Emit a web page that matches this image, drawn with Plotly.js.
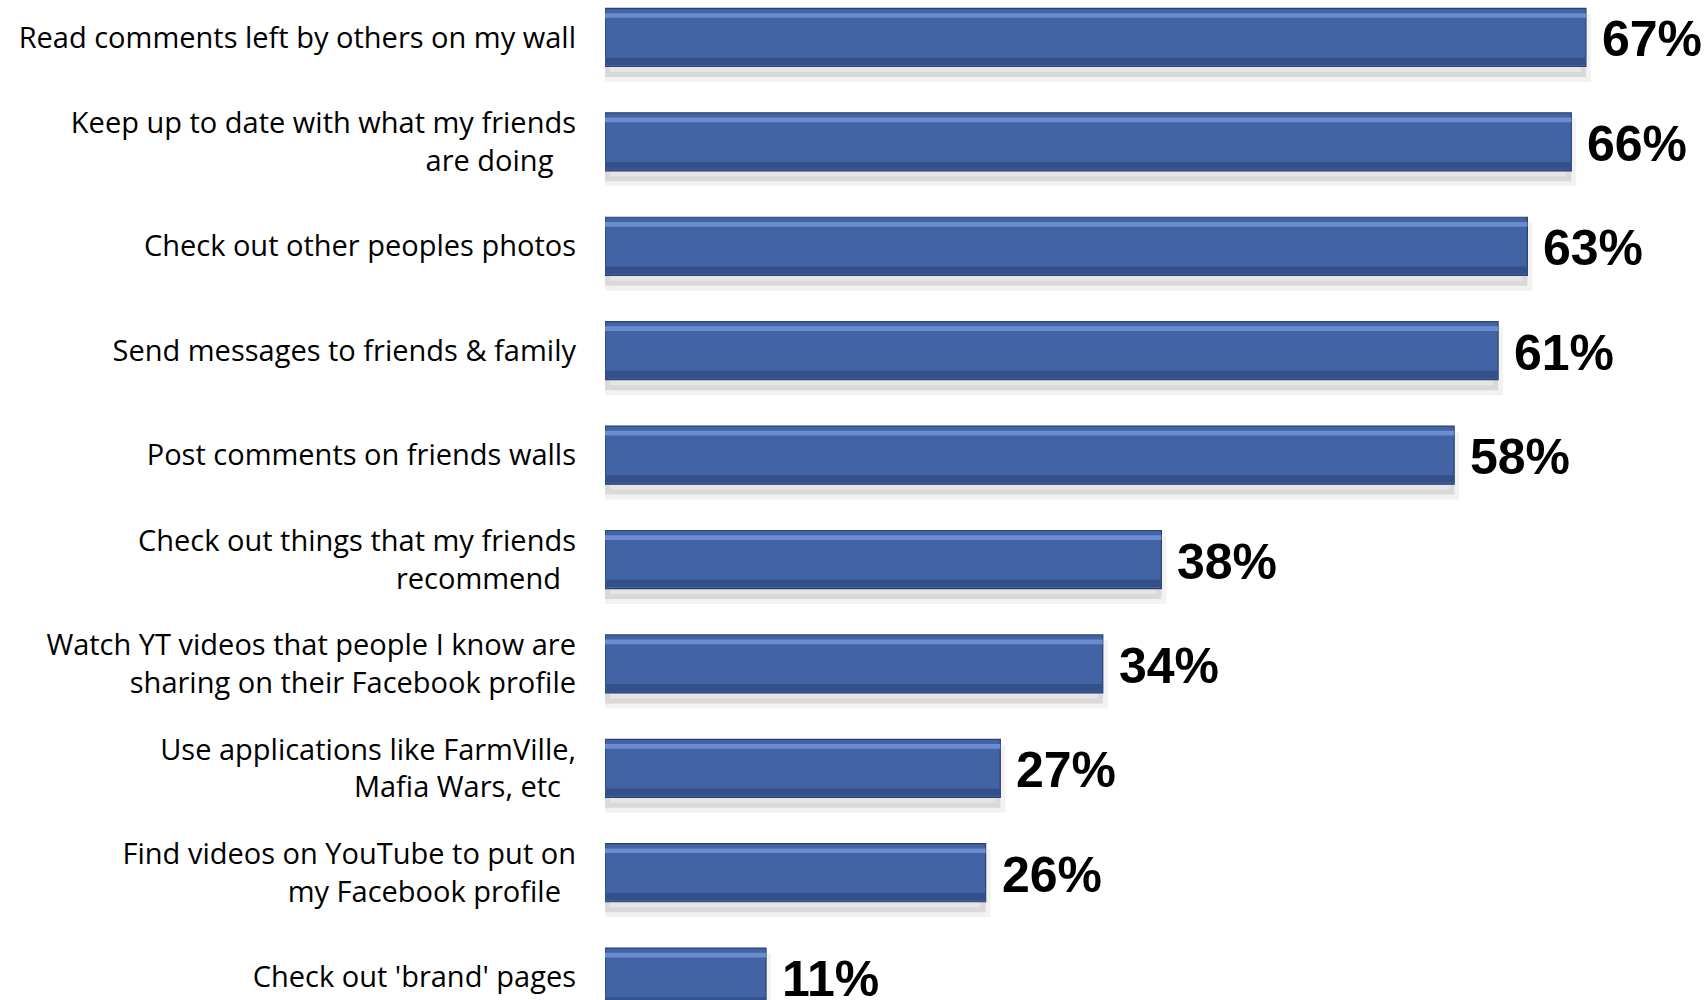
<!DOCTYPE html>
<html>
<head>
<meta charset="utf-8">
<script src="https://cdn.plot.ly/plotly-3.0.1.min.js"></script>
<style>html,body{margin:0;padding:0;background:#fff;}#chart{width:1706px;height:1000px;}</style>
</head>
<body>
<div id="chart"></div>
<script>
const NB = '\u00a0';
const categories = [
  "Read comments left by others on my wall",
  "Keep up to date with what my friends<br>are doing" + NB + NB + NB,
  "Check out other peoples photos",
  "Send messages to friends &amp; family",
  "Post comments on friends walls",
  "Check out things that my friends<br>recommend" + NB + NB,
  "Watch YT videos that people I know are<br>sharing on their Facebook profile",
  "Use applications like FarmVille,<br>Mafia Wars, etc" + NB + NB,
  "Find videos on YouTube to put on<br>my Facebook profile" + NB + NB,
  "Check out 'brand' pages"
];
const values = [67, 66, 63, 61, 58, 38, 34, 27, 26, 11];
const valueLabels = ["67%", "66%", "63%", "61%", "58%", "38%", "34%", "27%", "26%", "11%"];

const BW = 0.556;
const common = {
  type: 'bar', orientation: 'h', x: values, y: categories,
  hoverinfo: 'skip', showlegend: false
};
const traces = [
  Object.assign({}, common, {
    width: BW, offset: -BW/2 + 0.1,
    marker: {color: 'rgba(0,0,0,0.10)', line: {color: 'rgba(0,0,0,0.05)', width: 10}}
  }),
  Object.assign({}, common, {
    width: BW, offset: -BW/2,
    marker: {color: '#4263A4', line: {color: '#2B4270', width: 1.2}}
  }),
  Object.assign({}, common, {
    width: 0.045, offset: -BW/2 + 0.045,
    marker: {color: '#6C8CD0', line: {width: 0}}
  }),
  Object.assign({}, common, {
    width: 0.07, offset: BW/2 - 0.085,
    marker: {color: '#34508A', line: {width: 0}}
  })
];

const annotations = values.map((v, i) => ({
  x: v, y: categories[i], xref: 'x', yref: 'y',
  text: '<b>' + valueLabels[i] + '</b>', showarrow: false,
  xanchor: 'left', yanchor: 'middle', xshift: 14, yshift: -2,
  font: {family: 'Liberation Sans, Arial, sans-serif', size: 50, color: '#000'}
}));

const layout = {
  width: 1706, height: 1000,
  margin: {l: 605, r: 0, t: 0, b: 0, pad: 0},
  paper_bgcolor: '#ffffff', plot_bgcolor: '#ffffff',
  barmode: 'overlay',
  xaxis: {range: [0, 75.2], showgrid: false, zeroline: false, showticklabels: false, showline: false, ticks: ''},
  yaxis: {
    type: 'category', range: [9.219, -0.359],
    showgrid: false, zeroline: false, showline: false, ticks: '',
    ticklabelstandoff: 28,
    tickfont: {family: 'Open Sans, sans-serif', size: 29, color: '#000'}
  },
  annotations: annotations
};

Plotly.newPlot('chart', traces, layout, {displayModeBar: false, staticPlot: true});
</script>
</body>
</html>
